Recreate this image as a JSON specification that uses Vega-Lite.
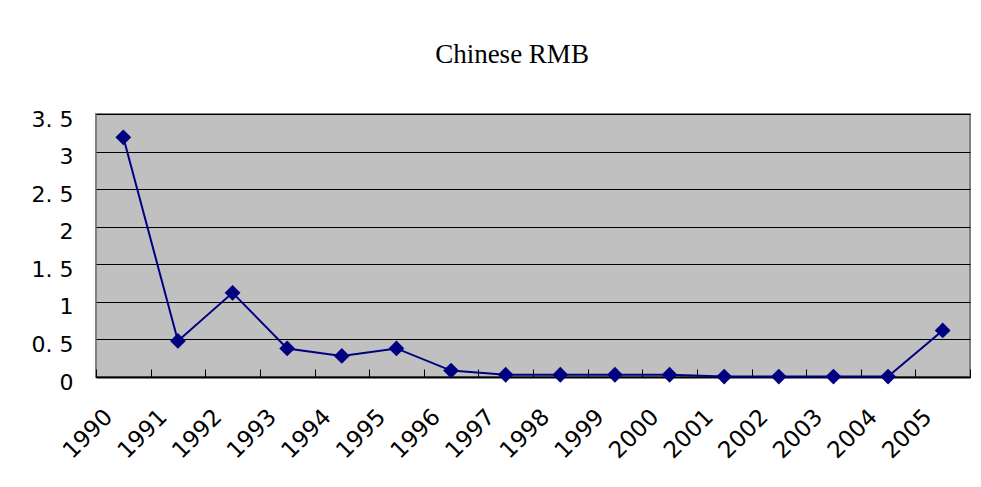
{
  "$schema": "https://vega.github.io/schema/vega-lite/v6.json",
  "width": 874,
  "height": 263,
  "autosize": {"type": "none"},
  "padding": {"left": 96, "top": 114, "right": 11, "bottom": 110},
  "background": "#ffffff",
  "title": {
    "text": "Chinese RMB",
    "font": "Liberation Serif",
    "fontSize": 27,
    "fontWeight": "normal",
    "color": "#000000",
    "anchor": "middle",
    "offset": 39,
    "dx": -21
  },
  "data": {
    "values": [
      {"year": "1990", "value": 3.19},
      {"year": "1991", "value": 0.48},
      {"year": "1992", "value": 1.12},
      {"year": "1993", "value": 0.38},
      {"year": "1994", "value": 0.28},
      {"year": "1995", "value": 0.38},
      {"year": "1996", "value": 0.085},
      {"year": "1997", "value": 0.03},
      {"year": "1998", "value": 0.03},
      {"year": "1999", "value": 0.03},
      {"year": "2000", "value": 0.03},
      {"year": "2001", "value": 0.005},
      {"year": "2002", "value": 0.005},
      {"year": "2003", "value": 0.005},
      {"year": "2004", "value": 0.005},
      {"year": "2005", "value": 0.62}
    ]
  },
  "mark": {
    "type": "line",
    "color": "#000080",
    "strokeWidth": 2,
    "point": {"shape": "diamond", "size": 250, "color": "#000080", "filled": true, "opacity": 1}
  },
  "encoding": {
    "x": {
      "field": "year",
      "type": "ordinal",
      "scale": {"type": "band", "paddingInner": 0, "paddingOuter": 0},
      "axis": {
        "title": null,
        "labelAngle": -45,
        "labelAlign": "right",
        "labelBaseline": "middle",
        "labelFont": "DejaVu Sans",
        "labelFontSize": 23,
        "labelColor": "#000000",
        "labelPadding": 44,
        "labelOffset": -15,
        "tickBand": "extent",
        "tickSize": -8,
        "tickColor": "#000000",
        "tickWidth": 1,
        "domainColor": "#000000",
        "domainWidth": 2,
        "grid": false
      }
    },
    "y": {
      "field": "value",
      "type": "quantitative",
      "scale": {"domain": [0, 3.5], "nice": false, "zero": true},
      "axis": {
        "title": null,
        "values": [0, 0.5, 1, 1.5, 2, 2.5, 3, 3.5],
        "labelExpr": "replace(toString(datum.value), '.', '. ')",
        "labelFont": "DejaVu Sans",
        "labelFontSize": 22,
        "labelColor": "#000000",
        "labelPadding": 23,
        "labelOffset": 5,
        "ticks": false,
        "domain": false,
        "grid": true,
        "gridColor": "#000000",
        "gridWidth": 1,
        "gridOpacity": 1
      }
    }
  },
  "config": {
    "view": {"fill": "#c0c0c0", "stroke": "#808080", "strokeWidth": 2}
  }
}
